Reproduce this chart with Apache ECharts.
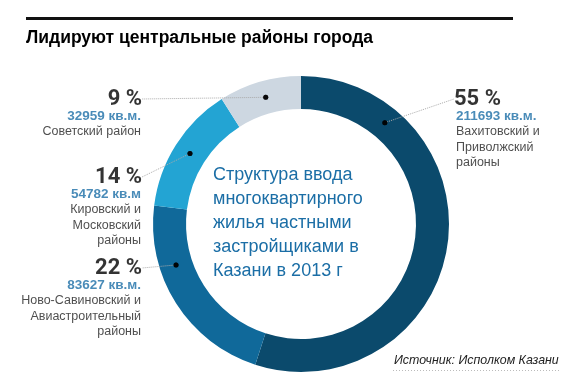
<!DOCTYPE html>
<html><head><meta charset="utf-8">
<script src="https://cdn.jsdelivr.net/npm/echarts@6/dist/echarts.min.js"></script>
<style>html,body{margin:0;padding:0;background:#fff}#c{width:575px;height:385px}</style>
</head><body><div id="c"></div>
<script>
// ---- data ----
const names = ['Вахитовский и\nПриволжский\nрайоны', 'Ново-Савиновский и\nАвиастроительный\nрайоны', 'Кировский и\nМосковский\nрайоны', 'Советский район'];
const shares = [55, 22, 14, 9];
const areas = ['211693 кв.м.', '83627 кв.м.', '54782 кв.м', '32959 кв.м.'];
// ---- styling / layout ----
const colors = ['#0b4a6c', '#10699a', '#23a4d3', '#cdd7e1'];
const anchorFrac = [0.2, 0.68, 0.5, 0.52];           // where the leader dot sits inside each segment
const labelPos = [[456, 89, 'left'], [141, 258, 'right'], [141, 167, 'right'], [141, 89, 'right']];
const CX = 301, CY = 224, R_OUT = 148, R_IN = 115;

const dots = [];
let cum = 0;
shares.forEach((v, i) => { dots.push([((R_IN + R_OUT) / 2) / R_OUT, cum + v * anchorFrac[i]]); cum += v; });

const chart = echarts.init(document.getElementById('c'));
chart.setOption({
  animation: false,
  polar: { center: [CX, CY], radius: [0, R_OUT] },
  angleAxis: { type: 'value', min: 0, max: 100, startAngle: 90, clockwise: true, show: false },
  radiusAxis: { type: 'value', min: 0, max: 1, show: false },
  title: [
    { text: 'Лидируют центральные районы города', left: 26, top: 29, padding: 0,
      textStyle: { fontFamily: 'Liberation Sans', fontWeight: 'bold', fontSize: 17.5, color: '#000' } },
    { text: 'Структура ввода\nмногоквартирного\nжилья частными\nзастройщиками в\nКазани в 2013 г', left: 213, top: 163, padding: 0,
      textStyle: { fontFamily: 'Liberation Sans', fontWeight: 'normal', fontSize: 18, lineHeight: 24, color: '#1b6ea6' } },
    { text: 'Источник: Исполком Казани', left: 394, top: 355, padding: 0,
      textStyle: { fontFamily: 'Liberation Sans', fontStyle: 'italic', fontWeight: 'normal', fontSize: 12.4, color: '#222' } }
  ],
  graphic: [
    { type: 'rect', shape: { x: 26, y: 17, width: 487, height: 3 }, style: { fill: '#111' } },
    { type: 'line', shape: { x1: 393, y1: 370.5, x2: 560, y2: 370.5 }, style: { stroke: '#bbb', lineWidth: 1, lineDash: [1, 2] } }
  ],
  series: [
    { type: 'pie', center: [CX, CY], radius: [R_IN, R_OUT], startAngle: 90, clockwise: true, silent: true,
      label: { show: false }, labelLine: { show: false },
      data: shares.map((v, i) => ({ value: v, name: names[i], itemStyle: { color: colors[i] } })) },
    // percentage headings with leader lines
    { type: 'scatter', coordinateSystem: 'polar', symbolSize: 5, silent: true, z: 5,
      itemStyle: { color: '#000' },
      data: dots,
      label: {
        show: true, position: 'right',
        formatter: p => shares[p.dataIndex] + ' %',
        fontFamily: 'Roboto', fontWeight: 'bold', fontSize: 22, lineHeight: 20, color: '#000'
      },
      labelLine: { show: true, length2: 0, minTurnAngle: 0, lineStyle: { color: '#aaa', width: 1, type: 'dotted' } },
      labelLayout: p => {
        const lp = labelPos[p.dataIndex];
        return { x: lp[2] === 'right' ? lp[0] + 1 : lp[0] - 2, y: lp[1], align: lp[2], verticalAlign: 'top' };
      }
    },
    // area and district text
    { type: 'scatter', coordinateSystem: 'polar', symbolSize: 5, silent: true, z: 5,
      itemStyle: { color: '#000' },
      data: dots,
      label: {
        show: true, position: 'right',
        formatter: p => '{val|' + areas[p.dataIndex] + '}\n{nm|' + names[p.dataIndex].split('\n').join('}\n{nm|') + '}',
        rich: {
          val: { fontFamily: 'Liberation Sans', fontWeight: 'bold', fontSize: 13.5, lineHeight: 16, color: '#1b6ea6' },
          nm: { fontFamily: 'Liberation Sans', fontSize: 12.5, lineHeight: 15.5, color: '#222' }
        }
      },
      labelLayout: p => {
        const lp = labelPos[p.dataIndex];
        return { x: lp[0], y: lp[1] + 19, align: lp[2], verticalAlign: 'top' };
      }
    }
  ]
});
</script></body></html>
